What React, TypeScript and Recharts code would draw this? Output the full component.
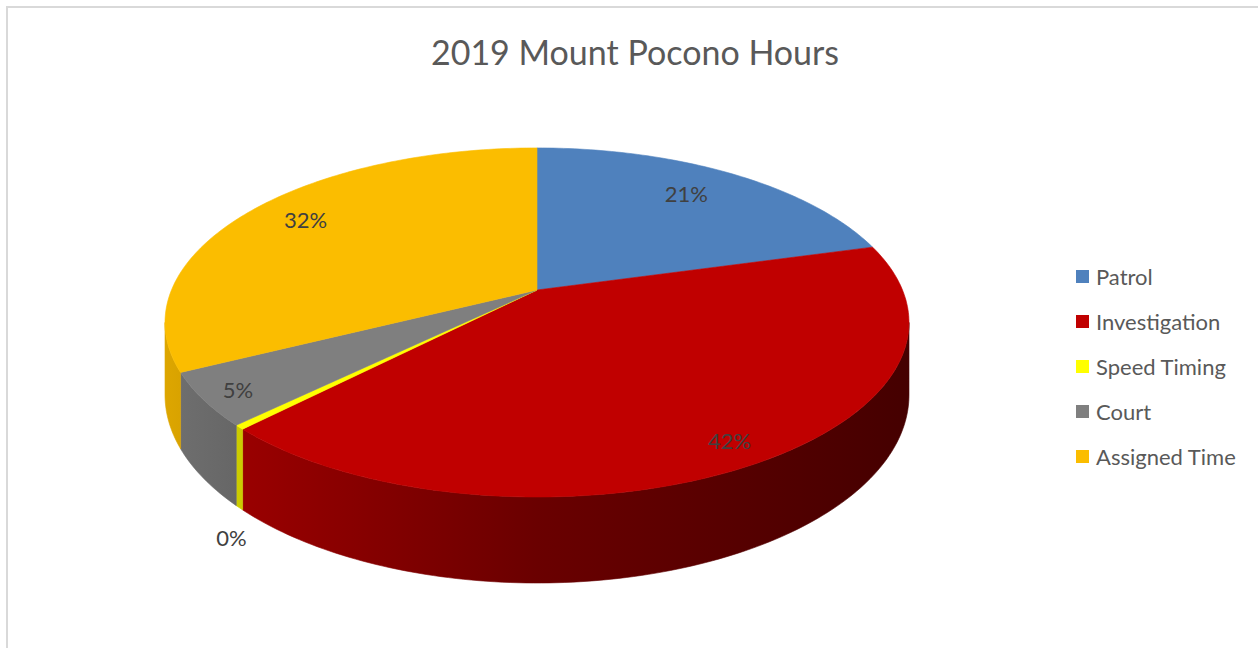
import { PieChart, Pie, Cell, Legend } from "recharts";

const categories = ["Patrol", "Investigation", "Speed Timing", "Court", "Assigned Time"];
const shares = [20.7, 41.6, 0.4, 4.9, 32.4];
const colors = ["#4f81bd", "#c00000", "#ffff00", "#7f7f7f", "#fbbd00"];

const data = categories.map((name, i) => ({ name, value: shares[i] }));

const FONT = "Lato, 'Open Sans', sans-serif";

// fake 3D projection of the pie (tilted disc with a little perspective)
const K = 365.5;
const K2 = 168.5;
const P = 0.186;
const H = 70;
const SIDE_FROM = (Math.acos(-P) * 180) / Math.PI;
const SIDE_TO = 360 - SIDE_FROM;

function proj(cx: number, cy: number, deg: number, r: number, dz: number) {
  const t = (deg * Math.PI) / 180;
  const den = 1 + P * r * Math.cos(t);
  return [cx + (K * r * Math.sin(t)) / den, cy - (K2 * r * Math.cos(t)) / den + (dz * H) / den];
}

function arc(cx: number, cy: number, a: number, b: number, dz: number) {
  const n = Math.max(2, Math.ceil(b - a));
  const pts: number[][] = [];
  for (let i = 0; i <= n; i++) pts.push(proj(cx, cy, a + ((b - a) * i) / n, 1, dz));
  return pts;
}

const toPath = (pts: number[][]) => pts.map((p) => `${p[0].toFixed(2)},${p[1].toFixed(2)}`).join(" L");

function shade(hex: string, f: number) {
  const n = parseInt(hex.slice(1), 16);
  const r = Math.round(((n >> 16) & 255) * f);
  const g = Math.round(((n >> 8) & 255) * f);
  const b = Math.round((n & 255) * f);
  return `rgb(${r},${g},${b})`;
}

function SliceShape(props: any) {
  const { cx, cy, startAngle, endAngle, fill, name } = props;
  const t1 = 90 - startAngle;
  const t2 = 90 - endAngle;
  const top = `M${cx},${cy} L${toPath(arc(cx, cy, t1, t2, 0))} Z`;
  const a = Math.max(t1, SIDE_FROM);
  const b = Math.min(t2, SIDE_TO);
  const id = `side-${String(name).replace(/\s/g, "")}`;
  let side = null;
  if (b > a) {
    const up = arc(cx, cy, a, b, 0);
    const dn = arc(cx, cy, a, b, 1).reverse();
    side = `M${toPath(up)} L${toPath(dn)} Z`;
  }
  return (
    <g>
      <defs>
        <linearGradient id={id} gradientUnits="userSpaceOnUse" x1={cx - 372} x2={cx + 372} y1={0} y2={0}>
          <stop offset="0" stopColor={shade(fill, 0.88)} />
          <stop offset="0.1" stopColor={shade(fill, 0.8)} />
          <stop offset="0.5" stopColor={shade(fill, 0.55)} />
          <stop offset="1" stopColor={shade(fill, 0.36)} />
        </linearGradient>
      </defs>
      {side && <path d={side} fill={`url(#${id})`} stroke={`url(#${id})`} strokeWidth={0.6} />}
      <path d={top} fill={fill} stroke={fill} strokeWidth={0.6} />
    </g>
  );
}

// small hand nudges to sit the labels where the original puts them
const LABEL_NUDGE = [
  [0, -6],
  [34, 27],
  [0, 0],
  [-56, 20],
  [-14, -9],
];

function renderLabel(props: any) {
  const { cx, cy, midAngle, percent, index } = props;
  const t = 90 - midAngle;
  const text = `${Math.round(percent * 100)}%`;
  let x: number;
  let y: number;
  if (percent < 0.01) {
    const p = proj(cx, cy, t, 1, 1);
    x = p[0] - 8;
    y = p[1] + 30;
  } else {
    const p = proj(cx, cy, t, 0.75, 0);
    x = p[0] + LABEL_NUDGE[index][0];
    y = p[1] + LABEL_NUDGE[index][1];
  }
  return (
    <text
      x={x}
      y={y}
      textAnchor="middle"
      dominantBaseline="central"
      fill="#404040"
      fontSize={22}
      fontFamily={FONT}
    >
      {text}
    </text>
  );
}

function renderLegend() {
  return (
    <div style={{ fontFamily: FONT, fontSize: 22, color: "#595959" }}>
      {categories.map((name, i) => (
        <div key={name} style={{ display: "flex", alignItems: "center", height: 45 }}>
          <span style={{ width: 13, height: 13, background: colors[i], marginRight: 7, display: "inline-block" }} />
          <span>{name}</span>
        </div>
      ))}
    </div>
  );
}

export default function App() {
  return (
    <div style={{ position: "absolute", left: 0, top: 0, width: 1258, height: 648, background: "#fff", overflow: "hidden" }}>
      <div
        style={{
          position: "absolute",
          left: 6,
          top: 6,
          width: 1260,
          height: 660,
          borderLeft: "2px solid #d9d9d9",
          borderTop: "2px solid #d9d9d9",
        }}
      />
      <div
        style={{
          position: "absolute",
          left: 0,
          top: 31,
          width: 1270,
          textAlign: "center",
          fontFamily: FONT,
          fontSize: 34,
          color: "#595959",
        }}
      >
        2019 Mount Pocono Hours
      </div>
      <div style={{ position: "absolute", left: 0, top: 0 }}>
        <PieChart width={1258} height={648} margin={{ top: 0, right: 0, bottom: 0, left: 0 }}>
          <Pie
            data={data}
            dataKey="value"
            nameKey="name"
            cx={537}
            cy={290}
            outerRadius={300}
            startAngle={90}
            endAngle={-270}
            stroke="none"
            isAnimationActive={false}
            shape={SliceShape}
            label={renderLabel}
            labelLine={false}
          >
            {data.map((entry, i) => (
              <Cell key={`cell-${i}`} fill={colors[i]} />
            ))}
          </Pie>
          <Legend
            layout="vertical"
            align="right"
            verticalAlign="top"
            content={renderLegend}
            wrapperStyle={{ left: 1076, top: 254, width: 182 }}
          />
        </PieChart>
      </div>
    </div>
  );
}
